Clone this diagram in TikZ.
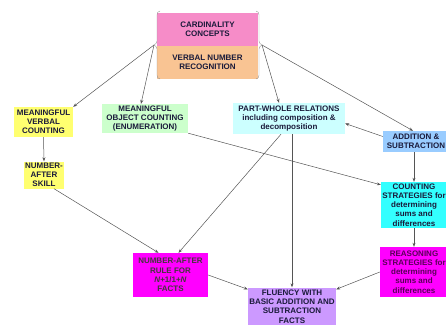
\documentclass[tikz,border=0pt]{standalone}
\usepackage{fontspec}
\setmainfont{Liberation Sans}
\usepackage{tikz}
\usetikzlibrary{arrows.meta,calc}
\definecolor{cpink}{HTML}{F68CC8}
\definecolor{corange}{HTML}{F9C493}
\definecolor{cyellow}{HTML}{FFFF70}
\definecolor{cgreen}{HTML}{CCFFCC}
\definecolor{ccyanl}{HTML}{CCFFFF}
\definecolor{cblue}{HTML}{99CCFF}
\definecolor{ccyan}{HTML}{33FFFF}
\definecolor{cmagenta}{HTML}{FF00FF}
\definecolor{cviolet}{HTML}{CC99FF}
\definecolor{cink}{HTML}{1A1A3A}
\definecolor{cpurple}{HTML}{5A0058}
\definecolor{cline}{HTML}{555555}

\begin{document}
\begin{tikzpicture}[
  x=1pt, y=-1pt,
  font=\fontsize{8}{9.2}\selectfont\bfseries,
  box/.style={align=center, inner sep=1pt, text=cink},
  arr/.style={-{Stealth[length=4pt,width=3pt]}, cline, line width=0.5pt},
]
\useasboundingbox (0,0) rectangle (446,324);
% top group
\node[box, fill=cpink, minimum width=101pt, minimum height=33pt] (card) at (207.5,29)
  {CARDINALITY\\CONCEPTS};
\node[box, fill=corange, minimum width=101pt, minimum height=33pt] (verbal) at (207.5,62)
  {VERBAL NUMBER\\RECOGNITION};
\draw[cline!60, line width=0.4pt] (160,11) to[out=180,in=90] (157,15) -- (157,41)
  to[out=-90,in=30] (154,45) to[out=-30,in=90] (157,49) -- (157,75) to[out=-90,in=180] (160,79);
\draw[cline!60, line width=0.4pt] (256,11) to[out=0,in=90] (259,15) -- (259,41)
  to[out=-90,in=150] (262,45) to[out=-150,in=90] (259,49) -- (259,75) to[out=-90,in=0] (256,79);
\coordinate (topL) at (154,45);
\coordinate (topR) at (262,45);
% second row
\node[box, fill=cyellow, minimum width=59pt, minimum height=30pt] (mvc) at (43.5,122)
  {MEANINGFUL\\VERBAL\\COUNTING};
\node[box, fill=cyellow, minimum width=38pt, minimum height=27pt] (nas) at (44,175)
  {NUMBER-\\AFTER\\SKILL};
\node[box, fill=cgreen, minimum width=86pt, minimum height=29pt] (moc) at (145,118.5)
  {MEANINGFUL\\OBJECT COUNTING\\(ENUMERATION)};
\node[box, fill=ccyanl, minimum width=112pt, minimum height=31pt] (pw) at (289,118.5)
  {PART-WHOLE RELATIONS\\including composition \&\\decomposition};
% right column
\node[box, fill=cblue, minimum width=66pt, minimum height=21pt] (as) at (416,141.5)
  {ADDITION \&\\SUBTRACTION};
\node[box, fill=ccyan, minimum width=66pt, minimum height=46pt] (cs) at (414,205)
  {COUNTING\\STRATEGIES for\\determining\\sums and\\differences};
\node[box, fill=cmagenta, text=cpurple, minimum width=68pt, minimum height=50pt] (rs) at (414,272)
  {REASONING\\STRATEGIES for\\determining\\sums and\\differences};
% bottom
\node[box, fill=cmagenta, text=black!85!magenta, minimum width=75pt, minimum height=44pt] (nar) at (170.5,275)
  {NUMBER-AFTER\\RULE FOR\\\textit{N}+1/1+\textit{N}\\FACTS};
\node[box, fill=cviolet, minimum width=88pt, minimum height=38pt] (fl) at (292,306.5)
  {FLUENCY WITH\\BASIC ADDITION AND\\SUBTRACTION\\FACTS};
% connectors
\draw[arr] (topL) -- (mvc.north east);
\draw[arr] (topL) -- ([xshift=-4pt]moc.north);
\draw[arr] (topR) -- ([xshift=-10pt]pw.north);
\draw[arr] (topR) -- ([xshift=-3pt]as.north);
\draw[arr] (mvc.south) -- (nas.north);
\draw[arr] ([xshift=10pt]nas.south) -- ([xshift=-12pt]nar.north);
\draw[arr] ([xshift=-8pt]pw.south) -- ([xshift=8pt]nar.north);
\draw[arr] ([xshift=3pt]pw.south) -- ([xshift=3pt]pw.south |- fl.north);
\draw[arr] ([yshift=5pt]as.west) -- ([yshift=-5pt]pw.east);
\draw[arr] (moc.south east) -- ([yshift=-3pt]cs.north west);
\draw[arr] (cs.north |- as.south) -- (cs.north);
\draw[arr] (cs.south) -- (rs.north);
\draw[arr] (rs.west) -- ([yshift=-2pt]fl.north east);
\draw[arr] (nar.east) -- ([yshift=-2pt]fl.north west);
\end{tikzpicture}
\end{document}
